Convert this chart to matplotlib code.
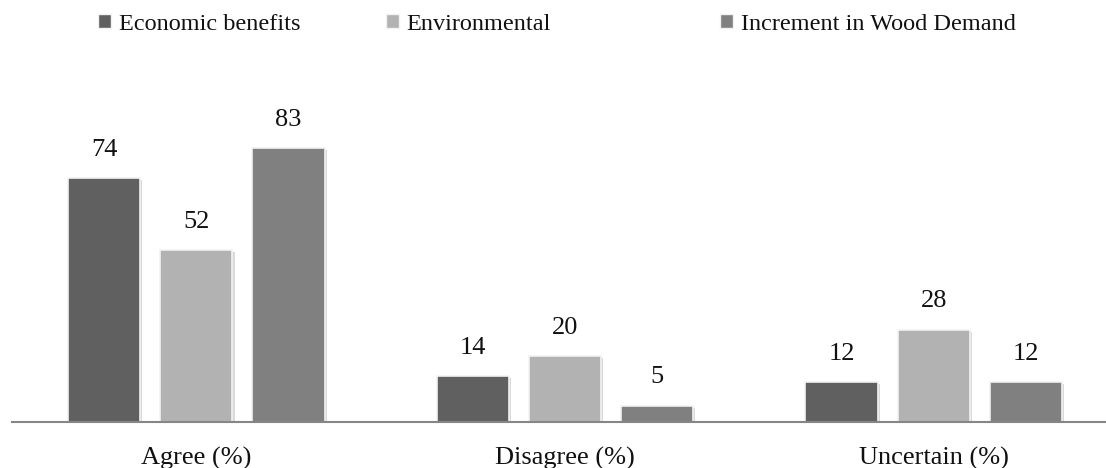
import matplotlib
matplotlib.use("Agg")
import matplotlib.pyplot as plt
import matplotlib.patheffects as pe
import matplotlib.patches as mpatches
import numpy as np

categories = ["Agree (%)", "Disagree (%)", "Uncertain (%)"]
series_names = ["Economic benefits", "Environmental", "Increment in Wood Demand"]
economic = [74, 14, 12]
environmental = [52, 20, 28]
wood_demand = [83, 5, 12]
colors = ["#606060", "#b2b2b2", "#808080"]

plt.rcParams['font.family'] = ['Liberation Serif', 'DejaVu Serif']

fig = plt.figure(figsize=(11.06, 4.68), dpi=100)
ax = fig.add_axes([12/1106, 1 - 422/468, 1 - 12/1106, 330/468])

x = np.arange(len(categories))
width = 0.196
offsets = [-0.25, 0.0, 0.25]
values = [economic, environmental, wood_demand]
shadow = [pe.SimplePatchShadow(offset=(1.5, -1.5), shadow_rgbFace='#000000', alpha=0.15), pe.Normal()]
for vals, off, col, name in zip(values, offsets, colors, series_names):
    bars = ax.bar(x + off, vals, width, color=col, label=name,
                  edgecolor='#f2f2f2', linewidth=1.2, zorder=3)
    for b in bars:
        b.set_path_effects(shadow)
    for xi, v in zip(x + off, vals):
        ax.text(xi, v + 5.2, str(v), ha='center', va='bottom', fontsize=19, color='#111111')

ax.set_xlim(-0.5, 2.5 - 12/368)
ax.set_ylim(0, 100)
for s in ['top', 'right', 'left']:
    ax.spines[s].set_visible(False)
ax.spines['bottom'].set_color('#868686')
ax.spines['bottom'].set_linewidth(1.5)
ax.spines['bottom'].set_zorder(4)
ax.set_yticks([])
ax.set_xticks(x)
ax.set_xticklabels(categories, fontsize=19, color='#111111')
ax.tick_params(axis='x', length=0, pad=18)

# legend entries placed individually
legend_x = [98/1106, 386/1106, 720/1106]
for name, col, lx in zip(series_names, colors, legend_x):
    h = mpatches.Patch(facecolor=col, edgecolor='#f2f2f2', label=name)
    fig.legend(handles=[h], loc='center left', bbox_to_anchor=(lx, 1 - 24/468),
               frameon=False, fontsize=17.5, handlelength=0.55, handleheight=0.55,
               handletextpad=0.3, borderpad=0, borderaxespad=0, labelcolor='#111111')

fig.savefig("out.png", dpi=100)
